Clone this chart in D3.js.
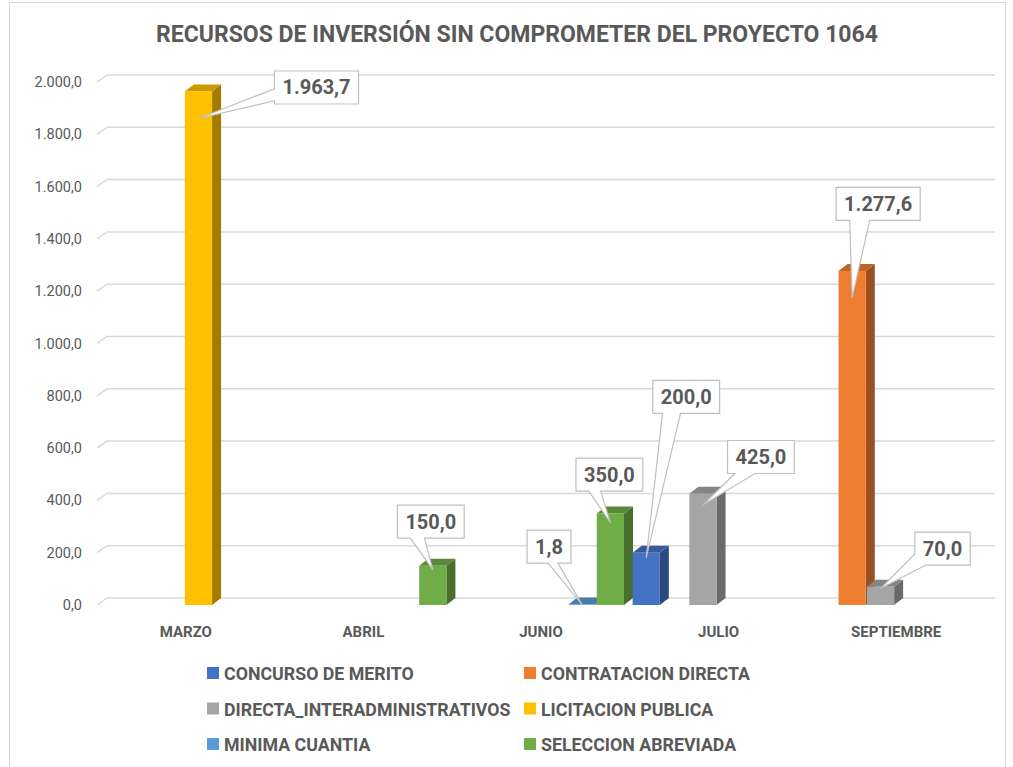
<!doctype html>
<html>
<head>
<meta charset="utf-8">
<script src="https://cdnjs.cloudflare.com/ajax/libs/d3/7.8.5/d3.min.js"></script>
<style>
  body { margin: 0; background: #fff; }
  text { font-family: Roboto, "Open Sans", sans-serif; fill: #595959; }
</style>
</head>
<body>
<svg></svg>
<script>
var width = 1013, height = 767;

var categories = ["MARZO", "ABRIL", "JUNIO", "JULIO", "SEPTIEMBRE"];
var seriesNames = ["CONCURSO DE MERITO", "CONTRATACION DIRECTA", "DIRECTA_INTERADMINISTRATIVOS",
                   "LICITACION PUBLICA", "MINIMA CUANTIA", "SELECCION ABREVIADA"];
var seriesColors = ["#4472C4", "#ED7D31", "#A5A5A5", "#FFC000", "#5B9BD5", "#70AD47"];

// valores por mes (0 = sin recursos)
var concursoDeMerito    = [0, 0, 0, 200, 0];
var contratacionDirecta = [0, 0, 0, 0, 1277.6];
var directaInteradmin   = [0, 0, 0, 425, 70];
var licitacionPublica   = [1963.7, 0, 0, 0, 0];
var minimaCuantia       = [0, 0, 1.8, 0, 0];
var seleccionAbreviada  = [0, 150, 350, 0, 0];
var seriesValues = [concursoDeMerito, contratacionDirecta, directaInteradmin,
                    licitacionPublica, minimaCuantia, seleccionAbreviada];

var yTicks = [0, 200, 400, 600, 800, 1000, 1200, 1400, 1600, 1800, 2000];

// colocacion de las etiquetas (caja respecto al punto de anclaje, y lado de la flecha)
var labelLayout = [
  { s: 3, c: 0, dx: 118, dy: -31, edge: "left",   t: 0.72, hw: 6 },
  { s: 5, c: 1, dx: -2,  dy: -48, edge: "bottom", t: 0.30, hw: 7 },
  { s: 4, c: 2, dx: -33, dy: -58, edge: "bottom", t: 0.59, hw: 5 },
  { s: 5, c: 2, dx: -1,  dy: -48, edge: "bottom", t: 0.28, hw: 6 },
  { s: 0, c: 3, dx: 40,  dy: -161, edge: "bottom", t: 0.28, hw: 9 },
  { s: 2, c: 3, dx: 58,  dy: -48, edge: "bottom", t: 0.26, hw: 10 },
  { s: 1, c: 4, dx: 26,  dy: -94, edge: "bottom", t: 0.28, hw: 10 },
  { s: 2, c: 4, dx: 62,  dy: -40, edge: "bottom", t: 0.0,  hw: 11 }
];

var locale = d3.formatLocale({ decimal: ",", thousands: ".", grouping: [3], currency: ["$", ""] });
var fmt = locale.format(",.1f");

var depthX = 9, depthY = 7;     // profundidad de las barras
var wallX = 10, wallY = 7;      // profundidad del piso

var svg = d3.select("svg").attr("width", width).attr("height", height);

svg.append("rect")
  .attr("x", 9.5).attr("y", 2.5).attr("width", 996).attr("height", 775)
  .attr("fill", "#fff").attr("stroke", "#d9d9d9");

svg.append("text")
  .attr("x", 517).attr("y", 42)
  .attr("text-anchor", "middle")
  .style("font-size", "23px").style("font-weight", "bold")
  .text("RECURSOS DE INVERSIÓN SIN COMPROMETER DEL PROYECTO 1064");

var x = d3.scaleBand().domain(categories).range([97, 985]);
var xs = d3.scaleBand().domain(d3.range(seriesNames.length)).range([-86, 83]).paddingInner(0.04);
var y = d3.scaleLinear().domain([0, 2000]).range([598, 75]);   // pared del fondo
function yf(v) { return y(v) + wallY; }                         // cara frontal
function xc(cat) { return x(cat) + x.bandwidth() / 2; }

// lineas de division
svg.append("g").selectAll("path").data(yTicks).enter().append("path")
  .attr("d", function(d) {
    return "M" + (x.range()[0]) + "," + yf(d) + "L" + (x.range()[0] + wallX) + "," + y(d) +
           "L" + (x.range()[1] + wallX) + "," + y(d);
  })
  .attr("fill", "none").attr("stroke", "#d9d9d9").attr("stroke-width", 1.5);

svg.append("g").selectAll("text").data(yTicks).enter().append("text")
  .attr("x", 82).attr("y", function(d) { return yf(d) + 5; })
  .attr("text-anchor", "end")
  .style("font-size", "14.5px")
  .text(function(d) { return fmt(d); });

svg.append("g").selectAll("text").data(categories).enter().append("text")
  .attr("x", function(d) { return xc(d); })
  .attr("y", 637)
  .attr("text-anchor", "middle")
  .style("font-size", "15px").style("font-weight", "bold")
  .text(function(d) { return d; });

// barras en orden de izquierda a derecha
var bars = [];
categories.forEach(function(cat, c) {
  seriesValues.forEach(function(vals, s) {
    if (vals[c] > 0) bars.push({ s: s, c: c, v: vals[c], x0: xc(cat) + xs(s) });
  });
});
bars.sort(function(a, b) { return a.x0 - b.x0; });

var bw = xs.bandwidth();
var gBars = svg.append("g");
bars.forEach(function(b) {
  var col = d3.rgb(seriesColors[b.s]);
  var side = d3.rgb(col.r * 0.64, col.g * 0.64, col.b * 0.64);
  var top = d3.rgb(col.r * 0.8, col.g * 0.8, col.b * 0.8);
  var t = yf(b.v), bot = yf(0), x0 = b.x0, x1 = b.x0 + bw;
  gBars.append("path")
    .attr("d", "M" + x1 + "," + t + "L" + (x1 + depthX) + "," + (t - depthY) +
               "L" + (x1 + depthX) + "," + (bot - depthY) + "L" + x1 + "," + bot + "Z")
    .attr("fill", side);
  gBars.append("path")
    .attr("d", "M" + x0 + "," + t + "L" + (x0 + depthX) + "," + (t - depthY) +
               "L" + (x1 + depthX) + "," + (t - depthY) + "L" + x1 + "," + t + "Z")
    .attr("fill", top);
  gBars.append("rect")
    .attr("x", x0).attr("y", t).attr("width", bw).attr("height", bot - t)
    .attr("fill", col);
});

// etiquetas con flecha
var gLab = svg.append("g");
labelLayout.forEach(function(L) {
  var v = seriesValues[L.s][L.c];
  var x0 = xc(categories[L.c]) + xs(L.s);
  var top = yf(v), h = yf(0) - top;
  var ax = x0 + bw / 2, ay = top + Math.min(27, h * 0.1);

  var g = gLab.append("g");
  var path = g.append("path").attr("fill", "#fff").attr("stroke", "#bfbfbf").attr("stroke-width", 1.2);
  var txt = g.append("text")
    .style("font-size", "20px").style("font-weight", "bold")
    .attr("text-anchor", "middle")
    .text(fmt(v));
  var tw = txt.node().getComputedTextLength();
  var w = tw + 16, hh = 33;
  var cx = ax + L.dx, cy = ay + L.dy;
  var bx = cx - w / 2, by = cy - hh / 2;
  txt.attr("x", cx).attr("y", cy + 7);

  // recorrido del perimetro en sentido horario desde la esquina superior izquierda
  var per = 2 * w + 2 * hh;
  function pt(s) {
    s = (s + per) % per;
    if (s <= w) return [bx + s, by];
    if (s <= w + hh) return [bx + w, by + (s - w)];
    if (s <= 2 * w + hh) return [bx + w - (s - w - hh), by + hh];
    return [bx, by + hh - (s - 2 * w - hh)];
  }
  var sc = L.edge === "bottom" ? w + hh + (1 - L.t) * w : 2 * w + hh + (1 - L.t) * hh;
  var s1 = sc - L.hw, s2 = sc + L.hw;
  var corners = [0, w, w + hh, 2 * w + hh];
  var ring = [pt(s2)];
  corners.forEach(function(k) { if (k > s2) ring.push(pt(k)); });
  corners.forEach(function(k) { if (k < s1) ring.push(pt(k)); });
  ring.push(pt(s1), [ax, ay]);
  path.attr("d", "M" + ring.map(function(q) { return q[0] + "," + q[1]; }).join("L") + "Z");
});

// leyenda
var legend = svg.append("g");
seriesNames.forEach(function(name, i) {
  var col = i % 2, row = Math.floor(i / 2);
  var lx = col === 0 ? 207 : 524, ly = 673 + row * 35.5;
  legend.append("rect").attr("x", lx).attr("y", ly - 6).attr("width", 12).attr("height", 12)
    .attr("fill", seriesColors[i]);
  legend.append("text").attr("x", lx + 17).attr("y", ly + 7)
    .style("font-size", "17.8px").style("font-weight", "bold")
    .text(name);
});
</script>
</body>
</html>
